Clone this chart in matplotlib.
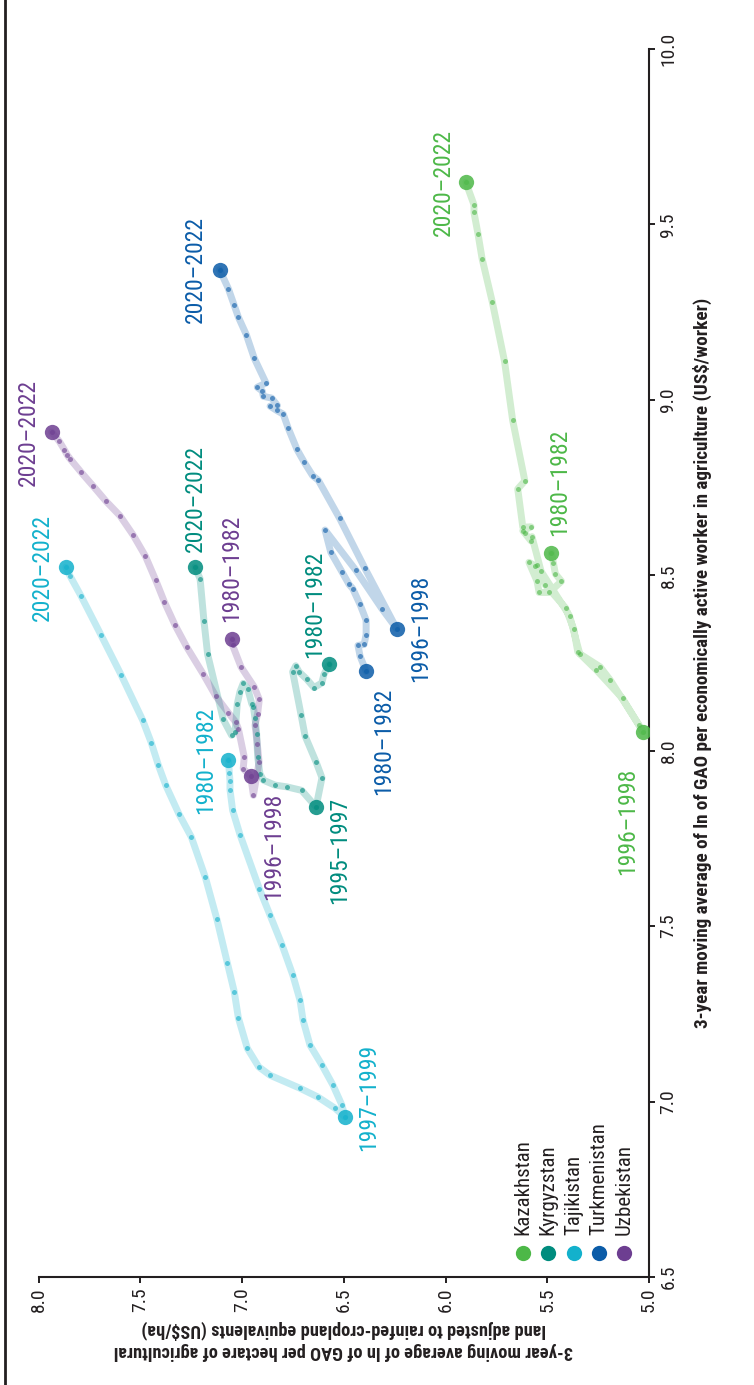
import numpy as np
import matplotlib
matplotlib.use('Agg')
import matplotlib.pyplot as plt
from matplotlib import font_manager
from matplotlib.lines import Line2D


def pick_font(names):
    for name in names:
        try:
            font_manager.findfont(name, fallback_to_default=False)
            return name
        except ValueError:
            pass
    return 'DejaVu Sans'


narrow = pick_font(['Liberation Sans Narrow', 'Roboto Condensed', 'Open Sans Condensed', 'Liberation Sans'])
plt.rcParams['font.family'] = [narrow, 'DejaVu Sans']

# ln GAO per hectare (ha) and per worker (worker), 3-year moving averages, 1980-82 onwards
kaz_ha = [5.48, 5.47, 5.46, 5.43, 5.49, 5.54, 5.55, 5.59, 5.56, 5.55, 5.51, 5.41, 5.37, 5.35, 5.26, 5.13, 5.03,
          5.05, 5.19, 5.24, 5.34, 5.39, 5.53, 5.575, 5.58, 5.61, 5.62, 5.58, 5.62, 5.645, 5.61, 5.67, 5.71,
          5.77, 5.82, 5.84, 5.86, 5.86, 5.90]
kaz_worker = [8.564, 8.536, 8.504, 8.483, 8.451, 8.451, 8.483, 8.537, 8.527, 8.530, 8.473, 8.407, 8.347, 8.282,
              8.231, 8.149, 8.054, 8.074, 8.201, 8.239, 8.276, 8.384, 8.511, 8.610, 8.598, 8.620, 8.627, 8.638,
              8.637, 8.746, 8.769, 8.942, 9.110, 9.279, 9.402, 9.472, 9.534, 9.556, 9.620]

kgz_ha = [6.571, 6.597, 6.608, 6.646, 6.682, 6.72, 6.736, 6.751, 6.71, 6.69, 6.636, 6.607, 6.636, 6.707, 6.78,
          6.838, 6.895, 6.912, 6.923, 6.928, 6.936, 6.944, 6.952, 6.972, 6.994, 7.01, 7.023, 7.034, 7.051,
          7.092, 7.169, 7.187, 7.206, 7.231]
kgz_worker = [8.246, 8.218, 8.193, 8.180, 8.204, 8.225, 8.242, 8.225, 8.103, 8.042, 7.968, 7.923, 7.840, 7.887,
              7.897, 7.902, 7.916, 7.935, 7.982, 8.049, 8.092, 8.125, 8.134, 8.177, 8.192, 8.168, 8.134, 8.054,
              8.044, 8.089, 8.275, 8.370, 8.490, 8.524]

tjk_ha = [7.067, 7.062, 7.059, 7.059, 7.046, 7.01, 6.915, 6.862, 6.803, 6.75, 6.715, 6.70, 6.666, 6.607, 6.553,
          6.509, 6.494, 6.543, 6.627, 6.715, 6.862, 6.918, 6.974, 7.018, 7.038, 7.072, 7.123, 7.18, 7.249,
          7.311, 7.375, 7.411, 7.446, 7.488, 7.593, 7.693, 7.791, 7.845, 7.866]
tjk_worker = [7.973, 7.937, 7.913, 7.889, 7.830, 7.761, 7.607, 7.531, 7.446, 7.36, 7.289, 7.232, 7.161, 7.104,
              7.047, 6.99, 6.956, 6.981, 7.013, 7.038, 7.075, 7.099, 7.152, 7.239, 7.313, 7.395, 7.519, 7.639,
              7.754, 7.821, 7.902, 7.959, 8.023, 8.087, 8.215, 8.330, 8.441, 8.498, 8.523]

tkm_ha = [6.39, 6.42, 6.43, 6.40, 6.39, 6.39, 6.42, 6.456, 6.474, 6.507, 6.564, 6.592, 6.44, 6.313, 6.24,
          6.397, 6.52, 6.625, 6.653, 6.695, 6.73, 6.774, 6.797, 6.83, 6.862, 6.826, 6.854, 6.895, 6.90, 6.925,
          6.882, 6.94, 6.979, 7.018, 7.038, 7.067, 7.11]
tkm_worker = [8.226, 8.270, 8.300, 8.303, 8.331, 8.372, 8.417, 8.462, 8.474, 8.508, 8.566, 8.629, 8.514, 8.405,
              8.348, 8.521, 8.662, 8.771, 8.784, 8.823, 8.859, 8.921, 8.959, 8.970, 8.982, 8.984, 9.005, 9.010,
              9.025, 9.036, 9.048, 9.119, 9.186, 9.236, 9.269, 9.317, 9.371]

uzb_ha = [7.05, 7.046, 7.005, 6.94, 6.915, 6.923, 6.936, 6.925, 6.916, 6.944, 6.957, 6.994, 6.989, 7.018,
          7.031, 7.067, 7.129, 7.19, 7.272, 7.329, 7.382, 7.424, 7.475, 7.534, 7.60, 7.668, 7.731, 7.791,
          7.845, 7.858, 7.873, 7.898, 7.935]
uzb_worker = [8.317, 8.30, 8.239, 8.182, 8.146, 8.106, 8.073, 8.02, 7.968, 7.873, 7.927, 7.949, 7.982, 8.063,
              8.082, 8.108, 8.156, 8.218, 8.296, 8.358, 8.425, 8.486, 8.555, 8.614, 8.670, 8.711, 8.754, 8.794,
              8.832, 8.842, 8.858, 8.882, 8.908]

countries = ['Kazakhstan', 'Kyrgyzstan', 'Tajikistan', 'Turkmenistan', 'Uzbekistan']
colors = ['#4db848', '#008c7e', '#13b1cc', '#0b5ca8', '#6d3e91']
series_ha = [kaz_ha, kgz_ha, tjk_ha, tkm_ha, uzb_ha]
series_worker = [kaz_worker, kgz_worker, tjk_worker, tkm_worker, uzb_worker]

# labelled periods: (point index, text, pixel offset, ha, va)
period_labels = [
    [(0, '1980–1982', (8, 17), 'center', 'bottom'), (16, '1996–1998', (-15, -36), 'center', 'top'),
     (-1, '2020–2022', (-22, 0), 'center', 'center')],
    [(0, '1980–1982', (-15, 6), 'center', 'bottom'), (12, '1995–1997', (24, 10), 'center', 'top'),
     (-1, '2020–2022', (0, 15), 'center', 'bottom')],
    [(0, '1980–1982', (-23, 0), 'center', 'center'), (16, '1997–1999', (24, 20), 'center', 'center'),
     (-1, '2020–2022', (-23, 0), 'center', 'center')],
    [(0, '1980–1982', (17, -16), 'center', 'top'), (14, '1996–1998', (24, 0), 'center', 'center'),
     (-1, '2020–2022', (-24, 0), 'center', 'center')],
    [(0, '1980–1982', (0, 17), 'center', 'bottom'), (10, '1996–1998', (23, -16), 'center', 'top'),
     (-1, '2020–2022', (-23, 0), 'center', 'center')],
]

ink = '#231f20'

fig = plt.figure(figsize=(7.54, 13.85), dpi=100)
ax = fig.add_axes([38.5 / 754, 108 / 1385, 610.5 / 754, 1228 / 1385])

for name, c, ha, wk, labs in zip(countries, colors, series_ha, series_worker, period_labels):
    ax.plot(ha, wk, color=c, lw=5, alpha=0.25, solid_capstyle='round', solid_joinstyle='round', zorder=1)
    ax.plot(ha, wk, 'o', color=c, ms=3.6, mec='none', alpha=0.6, zorder=2)
    for i, text, off, h, v in labs:
        ax.plot(ha[i], wk[i], 'o', color=c, ms=11, mec='none', alpha=0.85, zorder=3)
        ax.annotate(text, (ha[i], wk[i]), xytext=off, textcoords='offset pixels', rotation=90,
                    ha=h, va=v, color=c, fontsize=17)

ax.set_xlim(8.0, 5.0)
ax.set_ylim(6.5, 10.0)
ax.set_xticks(np.arange(5.0, 8.01, 0.5))
ax.set_yticks(np.arange(6.5, 10.01, 0.5))
ax.set_xticklabels(['{:.1f}'.format(t) for t in np.arange(5.0, 8.01, 0.5)])
ax.set_yticklabels(['{:.1f}'.format(t) for t in np.arange(6.5, 10.01, 0.5)])

ax.spines['top'].set_visible(False)
ax.spines['left'].set_visible(False)
for s in ['bottom', 'right']:
    ax.spines[s].set_linewidth(1.5)
    ax.spines[s].set_color(ink)
ax.yaxis.tick_right()
ax.yaxis.set_label_position('right')
ax.tick_params(direction='out', length=4.5, width=1.4, color=ink, labelcolor=ink, labelsize=14, pad=3)
ax.tick_params(axis='x', labelrotation=90)
ax.tick_params(axis='y', labelrotation=90)
for lab in ax.get_yticklabels():
    lab.set_va('center')

ax.set_ylabel('3-year moving average of ln of GAO per economically active worker in agriculture (US$/worker)',
              fontsize=13.8, fontweight='bold', color=ink, labelpad=11)
ax.set_xlabel('3-year moving average of ln of GAO per hectare of agricultural\n'
              'land adjusted to rainfed-cropland equivalents (US$/ha)',
              fontsize=13.2, fontweight='bold', color=ink, rotation=180, labelpad=6)

# legend, stacked sideways along the bottom right
for k, (name, c) in enumerate(zip(countries, colors)):
    x = 0.7936 + k * 0.0414
    ax.plot(x, 0.0195, 'o', color=c, ms=11, mec='none', transform=ax.transAxes, clip_on=False)
    ax.text(x, 0.034, name, rotation=90, ha='center', va='bottom', fontsize=15, color=ink,
            transform=ax.transAxes)

fig.add_artist(Line2D([0.0066, 0.0066], [0, 1], transform=fig.transFigure, color=ink, lw=2))

fig.savefig('out.png', dpi=100)
